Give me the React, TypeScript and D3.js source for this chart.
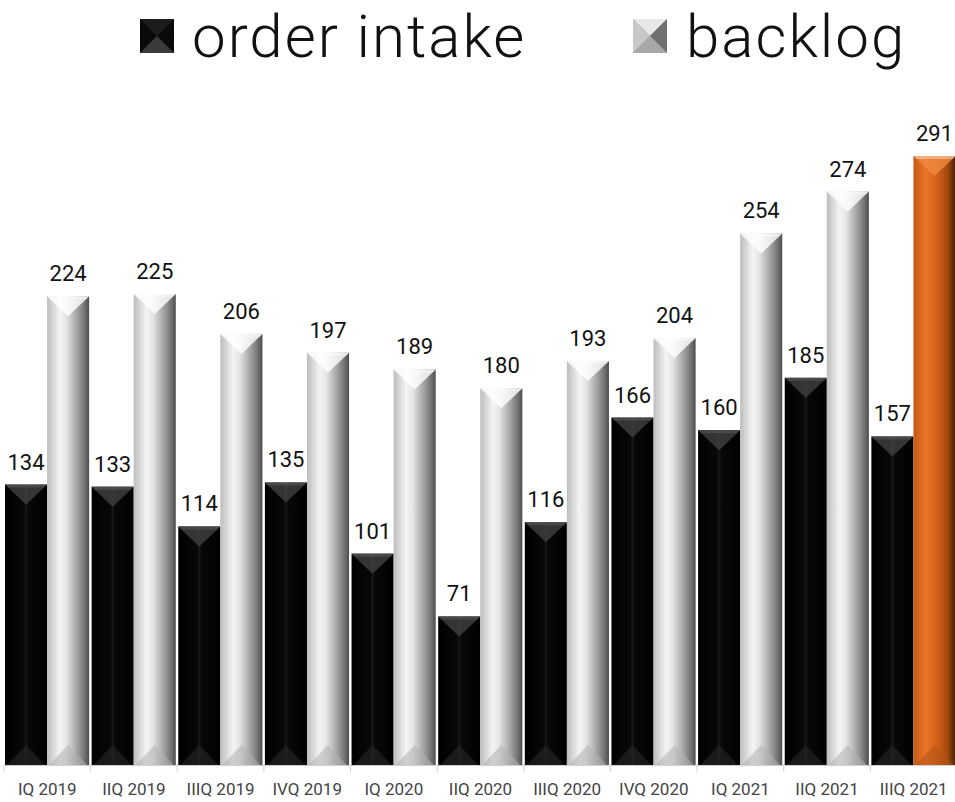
import React from "react";
import * as d3 from "d3";

const categories = ["IQ 2019","IIQ 2019","IIIQ 2019","IVQ 2019","IQ 2020","IIQ 2020","IIIQ 2020","IVQ 2020","IQ 2021","IIQ 2021","IIIQ 2021"];
const orderIntake = [134,133,114,135,101,71,116,166,160,185,157];
const backlog = [224,225,206,197,189,180,193,204,254,274,291];
const seriesNames = ["order intake", "backlog"];

const W = 955, H = 802;
const baseY = 765;

export default function App() {
  const x = d3.scaleBand<string>().domain(categories).range([4, 957]).padding(0);
  const bw = x.bandwidth();
  const sub = d3.scaleBand<string>().domain(["oi", "bl"]).range([1, bw - 1.5]).padding(0);
  const y = d3.scaleLinear().domain([0, 291]).range([baseY, 156]);
  const sw = sub.bandwidth();

  const bar = (cx: number, v: number, kind: "black" | "silver" | "orange", key: string) => {
    const top = y(v);
    const h = baseY - top;
    const x1 = cx + sw;
    const mid = cx + sw / 2;
    const bev = Math.min(20, h / 2);
    const fill = kind === "black" ? "url(#gBlack)" : kind === "silver" ? "url(#gSilver)" : "url(#gOrange)";
    const topFill = kind === "black" ? "#444" : kind === "silver" ? "#ffffff" : "#f08a3e";
    const topOp = kind === "black" ? 0.75 : 0.8;
    const botFill = kind === "black" ? "#2a2a2a" : kind === "silver" ? "#b0b0b0" : "#b05414";
    return (
      <g key={key}>
        <rect x={cx} y={top} width={sw} height={h} fill={fill} />
        <polygon points={`${cx},${top} ${x1},${top} ${mid},${top + bev}`} fill={topFill} opacity={topOp} />
        <polygon points={`${cx},${top} ${x1},${top} ${x1 - 3},${top + 3} ${cx + 3},${top + 3}`} fill="#ffffff" opacity={kind === "black" ? 0.1 : 0.35} />
        <polygon points={`${cx + 2},${baseY} ${x1 - 2},${baseY} ${mid},${baseY - bev}`} fill={botFill} opacity={0.55} />
      </g>
    );
  };

  return (
    <svg width={W} height={H} style={{ position: "absolute", left: 0, top: 0, background: "#fff" }} fontFamily="Roboto, sans-serif">
      <defs>
        <linearGradient id="gBlack" x1="0" x2="1" y1="0" y2="0">
          <stop offset="0" stopColor="#000" />
          <stop offset="0.45" stopColor="#080808" />
          <stop offset="0.5" stopColor="#181818" />
          <stop offset="0.55" stopColor="#080808" />
          <stop offset="1" stopColor="#000" />
        </linearGradient>
        <linearGradient id="gSilver" x1="0" x2="1" y1="0" y2="0">
          <stop offset="0" stopColor="#bdbdbd" />
          <stop offset="0.3" stopColor="#f4f4f4" />
          <stop offset="0.45" stopColor="#e6e6e6" />
          <stop offset="0.75" stopColor="#9a9a9a" />
          <stop offset="0.92" stopColor="#6a6a6a" />
          <stop offset="1" stopColor="#4a4a4a" />
        </linearGradient>
        <linearGradient id="gOrange" x1="0" x2="1" y1="0" y2="0">
          <stop offset="0" stopColor="#c85a14" />
          <stop offset="0.3" stopColor="#e8752a" />
          <stop offset="0.5" stopColor="#d9651c" />
          <stop offset="0.8" stopColor="#a84a0e" />
          <stop offset="1" stopColor="#4a2205" />
        </linearGradient>
      </defs>

      {/* legend */}
      <g>
        <rect x={140} y={19} width={34} height={34} fill="#0a0a0a" />
        <polygon points="140,19 174,19 157,36" fill="#1c1c1c" />
        <polygon points="140,53 174,53 157,36" fill="#3a3a3a" />
        <text x={192} y={57} fontSize={60} fontWeight={300} letterSpacing={2} fill="#111">{seriesNames[0]}</text>
        <rect x={633} y={19} width={34} height={34} fill="#9a9a9a" />
        <polygon points="633,19 667,19 650,36" fill="#e8e8e8" />
        <polygon points="633,19 633,53 650,36" fill="#c8c8c8" />
        <polygon points="667,19 667,53 650,36" fill="#707070" />
        <polygon points="633,53 667,53 650,36" fill="#a8a8a8" />
        <text x={686} y={57} fontSize={60} fontWeight={300} letterSpacing={2} fill="#111">{seriesNames[1]}</text>
      </g>

      {categories.map((c, i) => {
        const bx = x(c)!;
        const last = i === categories.length - 1;
        return (
          <g key={c}>
            {bar(bx + sub("oi")!, orderIntake[i], "black", "o" + i)}
            {bar(bx + sub("bl")!, backlog[i], last ? "orange" : "silver", "b" + i)}
            <text x={bx + sub("oi")! + sw / 2} y={y(orderIntake[i]) - 15} textAnchor="middle" fontSize={22} fill="#111">{orderIntake[i]}</text>
            <text x={bx + sub("bl")! + sw / 2} y={y(backlog[i]) - 15} textAnchor="middle" fontSize={22} fill="#111">{backlog[i]}</text>
            <text x={bx + bw / 2} y={795} textAnchor="middle" fontSize={17} fill="#444">{c}</text>
          </g>
        );
      })}

      <line x1={4} x2={957} y1={baseY + 0.5} y2={baseY + 0.5} stroke="#d0d0d0" />
      {d3.range(categories.length + 1).map((i) => {
        const tx = 4 + i * bw;
        return <line key={i} x1={tx} x2={tx} y1={baseY} y2={baseY + 7} stroke="#d0d0d0" />;
      })}
    </svg>
  );
}
